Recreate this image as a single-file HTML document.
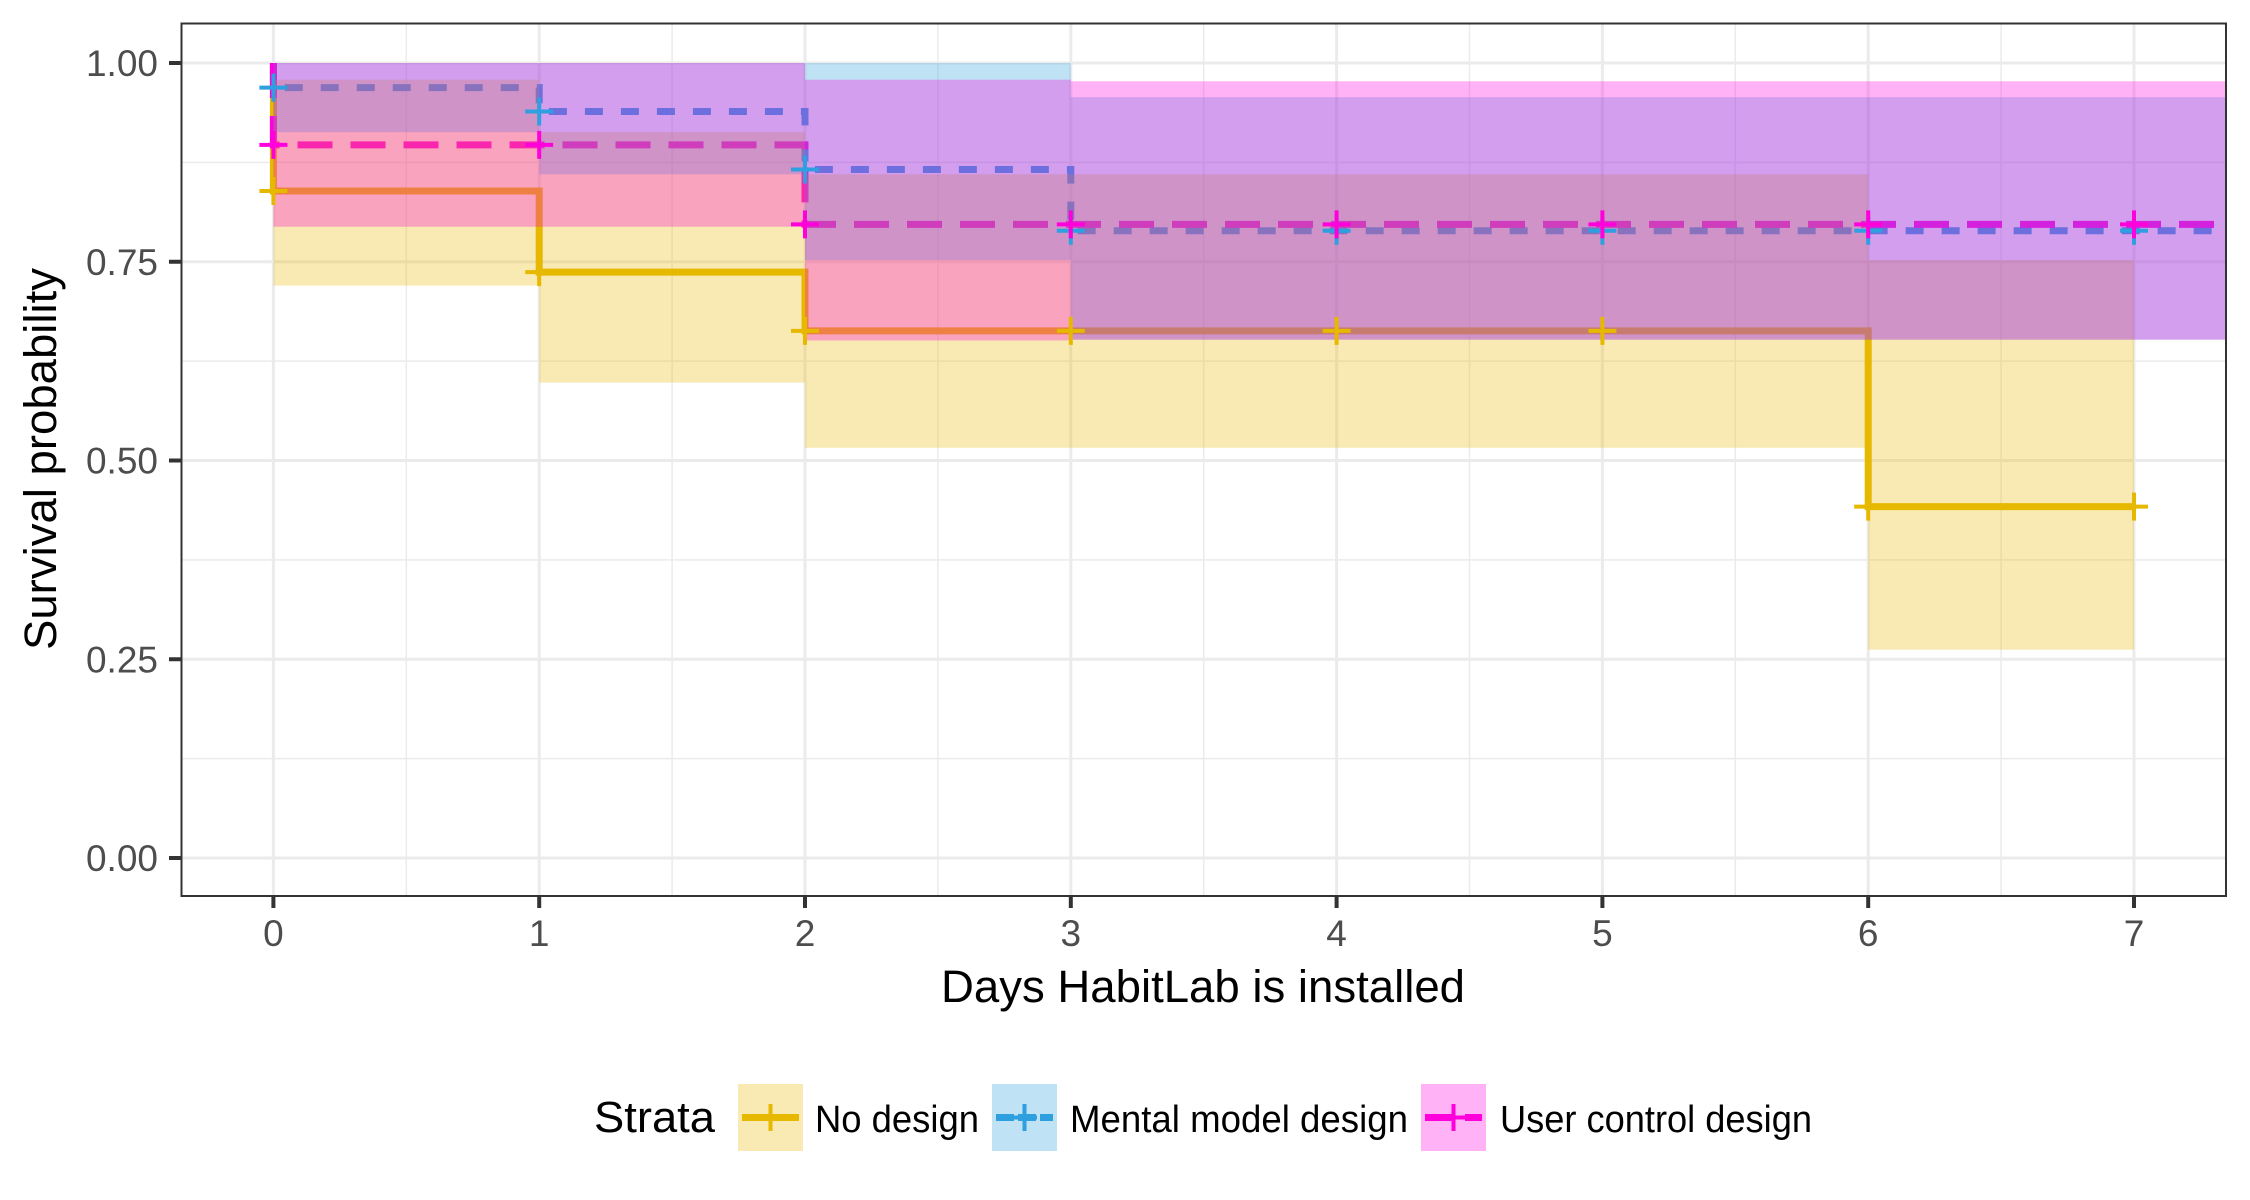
<!DOCTYPE html>
<html><head><meta charset="utf-8"><style>
html,body{margin:0;padding:0;background:#fff;}
svg{display:block;font-family:"Liberation Sans",Arial,sans-serif;}
</style></head><body>
<svg id="chart" width="2250" height="1200" viewBox="0 0 2250 1200" xmlns="http://www.w3.org/2000/svg">
<rect width="2250" height="1200" fill="#fff"/>
<g id="grid"></g>
<g id="lines"></g>
<g id="bands"></g>
<g id="marks"></g>
<rect x="181.5" y="23.5" width="2044.5" height="872.5" fill="none" stroke="#333" stroke-width="2"/>
<g id="axes"></g>
<text transform="translate(56,459) rotate(-90)" text-anchor="middle" font-size="45" fill="#000" textLength="382" lengthAdjust="spacingAndGlyphs">Survival probability</text>
<text x="1203" y="1002" text-anchor="middle" font-size="45" fill="#000" textLength="524" lengthAdjust="spacingAndGlyphs">Days HabitLab is installed</text>
<g id="legend"></g>
</svg>
<script>
const days = [0,1,2,3,4,5,6,7];
const yTicks = [0,0.25,0.5,0.75,1.0];
const yTickLabels = ["0.00","0.25","0.50","0.75","1.00"];
const seriesNames = ["No design","Mental model design","User control design"];
const seriesColors = ["#E7B800","#2E9FDF","#FF00DD"];
const seriesDash = ["", "18 18", "35 18"];
// survival steps: [start, end, value]
const noDesignSurv = [[0,1,0.839],[1,2,0.737],[2,6,0.663],[6,7,0.442]];
const mentalSurv = [[0,1,0.969],[1,2,0.939],[2,3,0.866],[3,7.35,0.789]];
const userSurv = [[0,1,0.897],[1,2,0.897],[2,7.35,0.797]];
// confidence bands: [start, end, lower, upper]
const noDesignCI = [[0,1,0.720,0.979],[1,2,0.598,0.913],[2,6,0.516,0.860],[6,7,0.262,0.752]];
const mentalCI = [[0,1,0.913,1.0],[1,2,0.860,1.0],[2,3,0.752,1.0],[3,7.35,0.652,0.957]];
const userCI = [[0,2,0.794,1.0],[2,3,0.651,0.979],[3,7.35,0.652,0.977]];
// censor marks: [time, value]
const noDesignCens = [[0,0.839],[1,0.737],[2,0.663],[3,0.663],[4,0.663],[5,0.663],[6,0.442],[7,0.442]];
const mentalCens = [[0,0.969],[1,0.939],[2,0.866],[3,0.789],[4,0.789],[5,0.789],[6,0.789],[7,0.789]];
const userCens = [[0,0.897],[1,0.897],[2,0.797],[3,0.797],[4,0.797],[5,0.797],[6,0.797],[7,0.797]];

const NS="http://www.w3.org/2000/svg";
const PL=181.5, PR=2226, PT=23.5, PB=896;
const X0=273.4, DX=265.8, Y0=858, DY=795;
function sx(v){return Math.min(PR, X0+v*DX);}
function sy(v){return Y0-v*DY;}
function mk(tag,attrs,parent){const e=document.createElementNS(NS,tag);for(const k in attrs)e.setAttribute(k,attrs[k]);parent.appendChild(e);return e;}

const grid=document.getElementById('grid');
for(let i=0;i<yTicks.length;i++){
  const y=sy(yTicks[i]);
  const l=mk('line',{x1:PL,x2:PR,y1:y,y2:y,stroke:'#EBEBEB','stroke-width':3},grid);
  
  
  if(i<yTicks.length-1){
    const ym=sy((yTicks[i]+yTicks[i+1])/2);
    const m=mk('line',{x1:PL,x2:PR,y1:ym,y2:ym,stroke:'#EBEBEB','stroke-width':1.5},grid);
    
    
  }
}
for(let i=0;i<days.length;i++){
  const x=sx(days[i]);
  const l=mk('line',{x1:x,x2:x,y1:PT,y2:PB,stroke:'#EBEBEB','stroke-width':3},grid);
  
  
  const xm=sx(days[i]+0.5);
  if(xm<PR){
    const m=mk('line',{x1:xm,x2:xm,y1:PT,y2:PB,stroke:'#EBEBEB','stroke-width':1.5},grid);
    
    
  }
}

const surv=[noDesignSurv,mentalSurv,userSurv];
const cis=[noDesignCI,mentalCI,userCI];
const cens=[noDesignCens,mentalCens,userCens];
const lines=document.getElementById('lines');
surv.forEach((s,k)=>{
  let d='M'+sx(0)+','+sy(1.0);
  s.forEach(seg=>{d+=' L'+sx(seg[0])+','+sy(seg[2])+' L'+sx(seg[1])+','+sy(seg[2]);});
  const p=mk('path',{d:d,fill:'none',stroke:seriesColors[k],'stroke-width':7},lines);
  if(seriesDash[k])p.setAttribute('stroke-dasharray',seriesDash[k]);
  
  
});
const bands=document.getElementById('bands');
cis.forEach((c,k)=>{
  c.forEach(seg=>{
    const r=mk('rect',{x:sx(seg[0]),y:sy(seg[3]),width:sx(seg[1])-sx(seg[0]),height:sy(seg[2])-sy(seg[3]),fill:seriesColors[k],'fill-opacity':0.3},bands);
    
    
  });
});
const marks=document.getElementById('marks');
cens.forEach((c,k)=>{
  c.forEach(pt=>{
    const x=sx(pt[0]),y=sy(pt[1]);
    const g=mk('path',{d:'M'+(x-14)+','+y+' H'+(x+14)+' M'+x+','+(y-14)+' V'+(y+14),stroke:seriesColors[k],'stroke-width':4,fill:'none'},marks);
    
    
  });
});

const axes=document.getElementById('axes');
yTicks.forEach((v,i)=>{
  const y=sy(v);
  mk('line',{x1:169,x2:181.5,y1:y,y2:y,stroke:'#333','stroke-width':4},axes);
  const t=mk('text',{x:158,y:y+13,'text-anchor':'end','font-size':37,fill:'#4D4D4D'},axes);
  t.textContent=yTickLabels[i];
  
  
});
days.forEach(v=>{
  const x=sx(v);
  mk('line',{x1:x,x2:x,y1:896,y2:908,stroke:'#333','stroke-width':4},axes);
  const t=mk('text',{x:x,y:946,'text-anchor':'middle','font-size':37,fill:'#4D4D4D'},axes);
  t.textContent=String(v);
  
  
});

const lg=document.getElementById('legend');
const st=mk('text',{x:594,y:1132,'font-size':44,fill:'#000',textLength:121,lengthAdjust:'spacingAndGlyphs'},lg);
st.textContent='Strata';


const keyX=[738,992,1421], textX=[815,1070,1500], textW=[164,338,312];
seriesNames.forEach((n,k)=>{
  const g=mk('g',{},lg);
  
  
  mk('rect',{x:keyX[k],y:1084,width:65,height:67,fill:seriesColors[k],'fill-opacity':0.3},g);
  const l=mk('line',{x1:keyX[k]+4,x2:keyX[k]+61,y1:1117.5,y2:1117.5,stroke:seriesColors[k],'stroke-width':7},g);
  if(k===1)l.setAttribute('stroke-dasharray','18 4');
  if(k===2)l.setAttribute('stroke-dasharray','28 12');
  mk('path',{d:'M'+(keyX[k]+20)+',1117.5 H'+(keyX[k]+45)+' M'+(keyX[k]+32.5)+',1104 V1131',stroke:seriesColors[k],'stroke-width':4},g);
  const t=mk('text',{x:textX[k],y:1132,'font-size':38,fill:'#000',textLength:textW[k],lengthAdjust:'spacingAndGlyphs'},g);
  t.textContent=n;
});
</script>
</body></html>
